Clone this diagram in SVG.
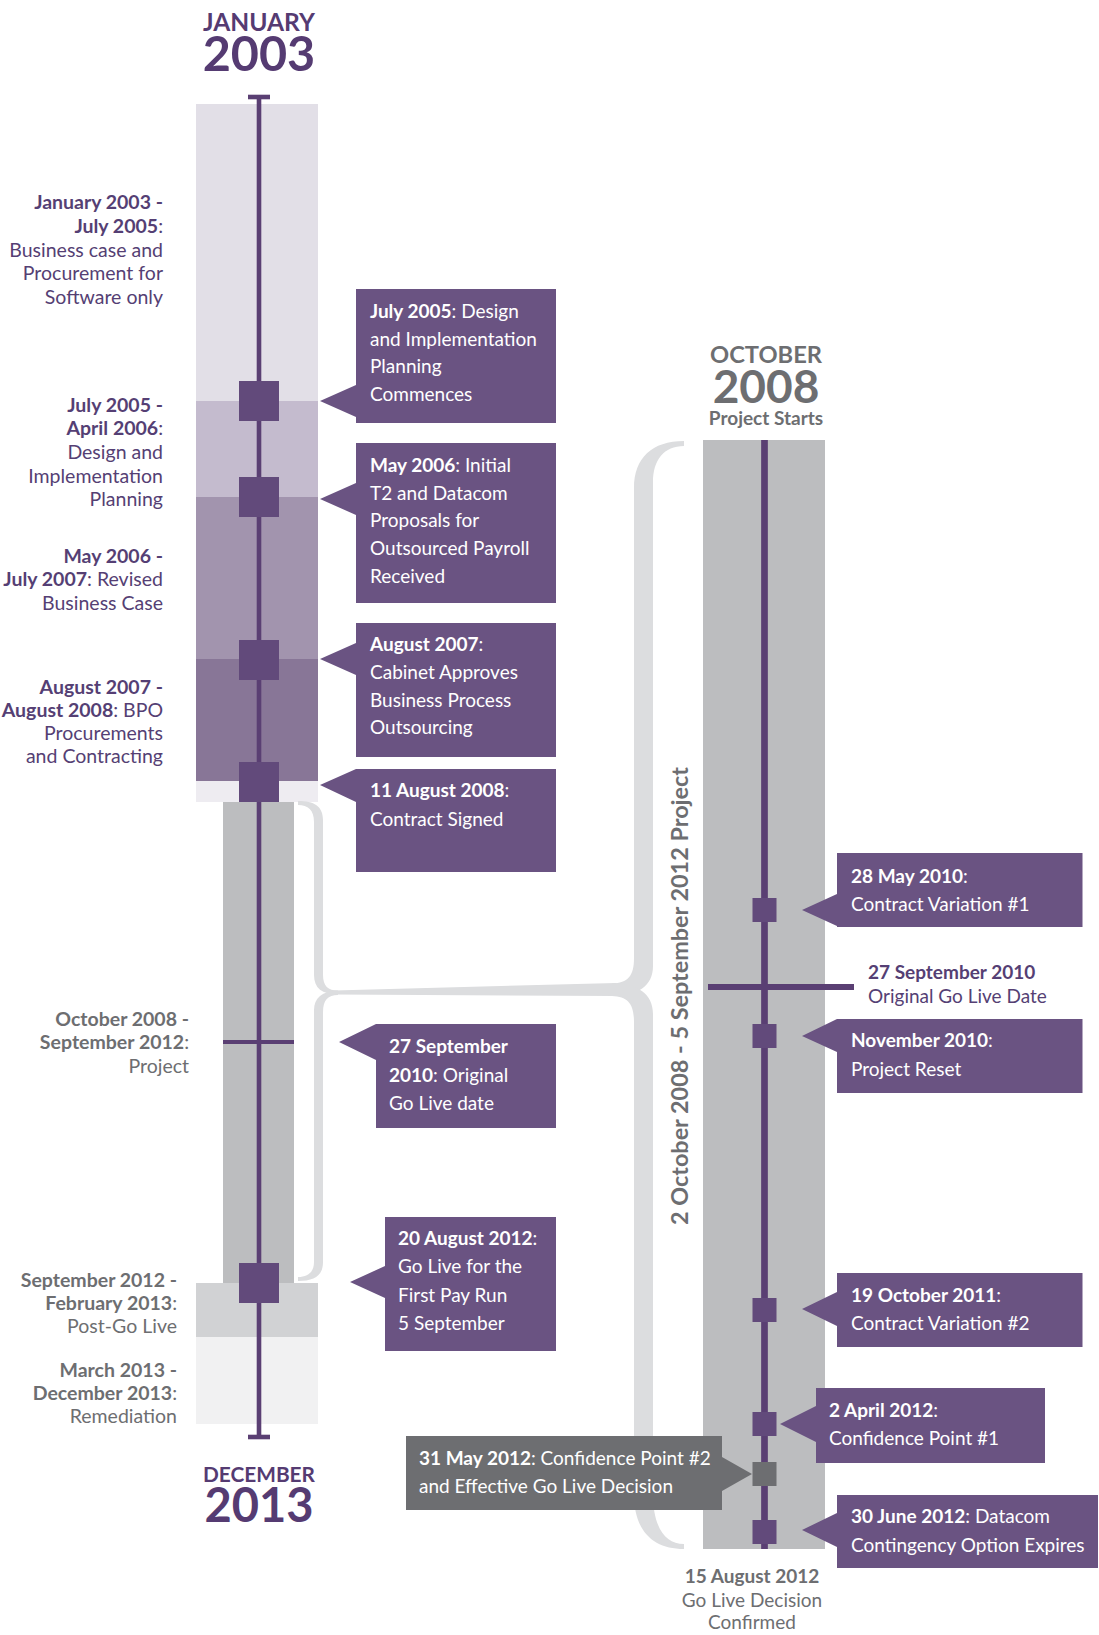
<svg xmlns="http://www.w3.org/2000/svg" width="1099" height="1635" viewBox="0 0 1099 1635">
<style>
text{font-family:"Lato","Open Sans","Liberation Sans",sans-serif}
.b{font-weight:700}
.lbl{font-size:19.5px;fill:#553f74;text-anchor:end}
.glbl{font-size:19.5px;fill:#6d6e71;text-anchor:end}
.bx{font-size:19px;fill:#ffffff}
.co{fill:#6a5382}
.gco{fill:#6d6e71}
.sq{fill:#624a7b}
.ln{stroke:#5a3f73;fill:none}
.ttl{font-weight:700;fill:#553b72;text-anchor:middle}
.gttl{font-weight:700;fill:#6d6e71;text-anchor:middle}
.brk{fill:#dcdddf}
</style>

<g id="title-start">
<text class="ttl" x="259" y="30.5" font-size="24" textLength="112" lengthAdjust="spacingAndGlyphs">JANUARY</text>
<text class="ttl" x="259" y="70.5" font-size="48.5">2003</text>
</g>

<g id="left-timeline">
<rect x="196" y="104" width="122" height="297" fill="#e2dfe7"/>
<rect x="196" y="401" width="122" height="96" fill="#c4bbce"/>
<rect x="196" y="497" width="122" height="162" fill="#a294ae"/>
<rect x="196" y="659" width="122" height="122" fill="#887697"/>
<rect x="196" y="781" width="122" height="21" fill="#eeecf1"/>
<rect x="223" y="802" width="71" height="481" fill="#bcbdbf"/>
<rect x="196" y="1283" width="122" height="54" fill="#d1d2d4"/>
<rect x="196" y="1337" width="122" height="87" fill="#f1f1f2"/>
<line class="ln" x1="259" y1="97" x2="259" y2="1437" stroke-width="4.6"/>
<line class="ln" x1="248" y1="97" x2="270" y2="97" stroke-width="4.6"/>
<line class="ln" x1="248" y1="1437" x2="270" y2="1437" stroke-width="4.6"/>
<line class="ln" x1="223" y1="1042" x2="294" y2="1042" stroke-width="4"/>
<rect class="sq" x="239" y="381" width="40" height="40"/>
<rect class="sq" x="239" y="477" width="40" height="40"/>
<rect class="sq" x="239" y="640" width="40" height="40"/>
<rect class="sq" x="239" y="762" width="40" height="40"/>
<rect class="sq" x="239" y="1263" width="40" height="40"/>
</g>

<g id="title-end">
<text class="ttl" x="259" y="1482" font-size="20.5" textLength="112" lengthAdjust="spacingAndGlyphs">DECEMBER</text>
<text class="ttl" x="259" y="1521.5" font-size="47">2013</text>
</g>

<g id="period-labels">
<text class="lbl" x="163" y="209"><tspan class="b">January 2003 -</tspan></text>
<text class="lbl" x="163" y="233"><tspan class="b">July 2005</tspan>:</text>
<text class="lbl" x="163" y="257">Business case and</text>
<text class="lbl" x="163" y="280">Procurement for</text>
<text class="lbl" x="163" y="304">Software only</text>

<text class="lbl" x="163" y="412"><tspan class="b">July 2005 -</tspan></text>
<text class="lbl" x="163" y="435"><tspan class="b">April 2006</tspan>:</text>
<text class="lbl" x="163" y="459">Design and</text>
<text class="lbl" x="163" y="483">Implementation</text>
<text class="lbl" x="163" y="506">Planning</text>

<text class="lbl" x="163" y="563"><tspan class="b">May 2006 -</tspan></text>
<text class="lbl" x="163" y="586"><tspan class="b">July 2007</tspan>: Revised</text>
<text class="lbl" x="163" y="610">Business Case</text>

<text class="lbl" x="163" y="694"><tspan class="b">August 2007 -</tspan></text>
<text class="lbl" x="163" y="717"><tspan class="b">August 2008</tspan>: BPO</text>
<text class="lbl" x="163" y="740">Procurements</text>
<text class="lbl" x="163" y="763">and Contracting</text>

<text class="glbl" x="189" y="1026"><tspan class="b">October 2008 -</tspan></text>
<text class="glbl" x="189" y="1049"><tspan class="b">September 2012</tspan>:</text>
<text class="glbl" x="189" y="1073">Project</text>

<text class="glbl" x="177" y="1287"><tspan class="b">September 2012 -</tspan></text>
<text class="glbl" x="177" y="1310"><tspan class="b">February 2013</tspan>:</text>
<text class="glbl" x="177" y="1333">Post-Go Live</text>

<text class="glbl" x="177" y="1377"><tspan class="b">March 2013 -</tspan></text>
<text class="glbl" x="177" y="1400"><tspan class="b">December 2013</tspan>:</text>
<text class="glbl" x="177" y="1423">Remediation</text>
</g>

<g id="callout-jul2005">
<path class="co" d="M356 289H556V423H356V417L320 401L356 385Z"/>
<text class="bx" x="370" y="318"><tspan class="b">July 2005</tspan>: Design</text>
<text class="bx" x="370" y="346">and Implementation</text>
<text class="bx" x="370" y="373">Planning</text>
<text class="bx" x="370" y="401">Commences</text>
</g>

<g id="callout-may2006">
<path class="co" d="M356 443H556V603H356V515L320 499L356 483Z"/>
<text class="bx" x="370" y="472"><tspan class="b">May 2006</tspan>: Initial</text>
<text class="bx" x="370" y="499.5">T2 and Datacom</text>
<text class="bx" x="370" y="527">Proposals for</text>
<text class="bx" x="370" y="555">Outsourced Payroll</text>
<text class="bx" x="370" y="583">Received</text>
</g>

<g id="callout-aug2007">
<path class="co" d="M356 623H556V757H356V675L320 659L356 643Z"/>
<text class="bx" x="370" y="651"><tspan class="b">August 2007</tspan>:</text>
<text class="bx" x="370" y="679">Cabinet Approves</text>
<text class="bx" x="370" y="707">Business Process</text>
<text class="bx" x="370" y="734">Outsourcing</text>
</g>

<g id="callout-aug2008">
<path class="co" d="M356 769H556V872H356V802L320 785L356 769Z"/>
<text class="bx" x="370" y="797"><tspan class="b">11 August 2008</tspan>:</text>
<text class="bx" x="370" y="826">Contract Signed</text>
</g>

<g id="callout-sep2010">
<path class="co" d="M376 1024H556V1128H376V1060L339 1042L376 1024Z"/>
<text class="bx" x="389" y="1053"><tspan class="b">27 September</tspan></text>
<text class="bx" x="389" y="1082"><tspan class="b">2010</tspan>: Original</text>
<text class="bx" x="389" y="1110">Go Live date</text>
</g>

<g id="callout-aug2012">
<path class="co" d="M385 1217H556V1351H385V1298L350 1282L385 1266Z"/>
<text class="bx" x="398" y="1245"><tspan class="b">20 August 2012</tspan>:</text>
<text class="bx" x="398" y="1273">Go Live for the</text>
<text class="bx" x="398" y="1302">First Pay Run</text>
<text class="bx" x="398" y="1330">5 September</text>
</g>

<g id="connectors">
<path class="brk" d="M298 801C314 801 323 806 323 820L323 975C323 986 328 990.5 338 990.5L338 994.5C322 994.5 314 988 314 975L314 822C314 810 308 805 298 805Z"/>
<path class="brk" d="M338 991C322 991 314 998 314 1010L314 1262C314 1272 308 1277 298 1277L298 1281C314 1281 323 1276 323 1262L323 1012C323 1000 328 995 338 995Z"/>
<polygon class="brk" points="334,990.5 616,983 616,996 334,994.5"/>
<path class="brk" d="M684 441C652 441 634 458 634 488L634 958C634 976 628 983 612 983.5L612 996C638 996 653 986 653 966L653 482C653 460 664 446 684 446Z"/>
<path class="brk" d="M612 983.5C638 983.5 653 994 653 1014L653 1494C653 1527 665 1544 684 1544L684 1549C652 1549 634 1530 634 1494L634 1022C634 1004 628 996.5 612 996Z"/>
</g>

<g id="project-label">
<text class="b" transform="translate(688,1225) rotate(-90)" font-size="23" fill="#6d6e71" textLength="458" lengthAdjust="spacingAndGlyphs">2 October 2008 - 5 September 2012 Project</text>
</g>

<g id="title-project">
<text class="gttl" x="766" y="362.5" font-size="23.5" textLength="112" lengthAdjust="spacingAndGlyphs">OCTOBER</text>
<text class="gttl" x="766" y="402.5" font-size="46">2008</text>
<text class="gttl" x="766" y="424.5" font-size="19">Project Starts</text>
</g>

<g id="right-timeline">
<rect x="703" y="440" width="122" height="1109" fill="#bcbdbf"/>
<line class="ln" x1="764.5" y1="440" x2="764.5" y2="1549" stroke-width="6.7"/>
<line class="ln" x1="708" y1="987" x2="854" y2="987" stroke-width="6"/>
<rect class="sq" x="752.5" y="898" width="24" height="24"/>
<rect class="sq" x="752.5" y="1024" width="24" height="24"/>
<rect class="sq" x="752.5" y="1298" width="24" height="24"/>
<rect class="sq" x="752.5" y="1412" width="24" height="24"/>
<rect x="752.5" y="1462" width="24" height="24" fill="#6d6e71"/>
<rect class="sq" x="752.5" y="1520" width="24" height="24"/>
</g>

<g id="marker-original-golive">
<text x="868" y="979" font-size="19" fill="#553f74" class="b">27 September 2010</text>
<text x="868" y="1003" font-size="19" fill="#553f74">Original Go Live Date</text>
</g>

<g id="callout-may2010">
<path class="co" d="M837 853H1082.5V927H837V926L802 910L837 894Z"/>
<text class="bx" x="851" y="883"><tspan class="b">28 May 2010</tspan>:</text>
<text class="bx" x="851" y="911">Contract Variation #1</text>
</g>

<g id="callout-nov2010">
<path class="co" d="M837 1019H1082.5V1093H837V1052L802 1036L837 1019Z"/>
<text class="bx" x="851" y="1047"><tspan class="b">November 2010</tspan>:</text>
<text class="bx" x="851" y="1076">Project Reset</text>
</g>

<g id="callout-oct2011">
<path class="co" d="M837 1273H1082.5V1347H837V1326L802 1309L837 1292Z"/>
<text class="bx" x="851" y="1302"><tspan class="b">19 October 2011</tspan>:</text>
<text class="bx" x="851" y="1330">Contract Variation #2</text>
</g>

<g id="callout-apr2012">
<path class="co" d="M816 1388H1045V1463H816V1442L780 1424L816 1406Z"/>
<text class="bx" x="829" y="1417"><tspan class="b">2 April 2012</tspan>:</text>
<text class="bx" x="829" y="1445">Confidence Point #1</text>
</g>

<g id="callout-may2012">
<path class="gco" d="M406 1436H722V1457L752 1474L722 1491V1510H406Z"/>
<text class="bx" x="419" y="1465"><tspan class="b">31 May 2012</tspan>: Confidence Point #2</text>
<text class="bx" x="419" y="1493">and Effective Go Live Decision</text>
</g>

<g id="callout-jun2012">
<path class="co" d="M837 1495H1098V1568H837V1547L802 1530L837 1513Z"/>
<text class="bx" x="851" y="1523"><tspan class="b">30 June 2012</tspan>: Datacom</text>
<text class="bx" x="851" y="1552">Contingency Option Expires</text>
</g>

<g id="marker-golive-decision">
<text x="752" y="1583" font-size="19" fill="#6d6e71" text-anchor="middle" class="b">15 August 2012</text>
<text x="752" y="1607" font-size="19" fill="#6d6e71" text-anchor="middle">Go Live Decision</text>
<text x="752" y="1629" font-size="19" fill="#6d6e71" text-anchor="middle">Confirmed</text>
</g>
</svg>
